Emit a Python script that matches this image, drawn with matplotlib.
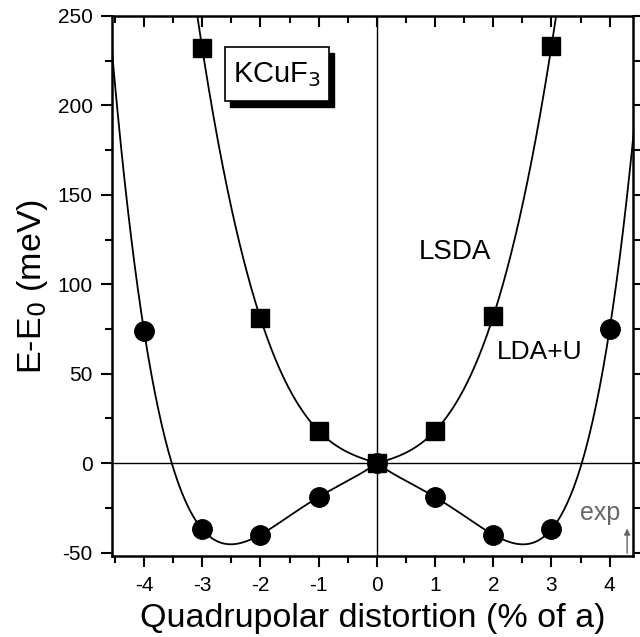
import matplotlib
matplotlib.use("Agg")
import matplotlib.pyplot as plt
import numpy as np
from matplotlib.patches import Rectangle
from matplotlib.ticker import MultipleLocator

plt.rcParams['font.family'] = ['Liberation Sans', 'DejaVu Sans']

# LSDA (squares)
x_lsda = [-3, -2, -1, 0, 1, 2, 3]
e_lsda = [232, 81, 18, 0, 18, 82, 233]
# LDA+U (circles)
x_ldau = [-4, -3, -2, -1, 0, 1, 2, 3, 4]
e_ldau = [74, -37, -40, -19, 0, -19, -40, -37, 75]


def two_halves(ax, x, y, **kw):
    # each side interpolated separately by a polynomial through its points
    x = np.asarray(x, float)
    y = np.asarray(y, float)
    for mask, t in ((x <= 0, np.linspace(-4.6, 0, 400)),
                    (x >= 0, np.linspace(0, 4.6, 400))):
        c = np.polyfit(x[mask], y[mask], mask.sum() - 1)
        ax.plot(t, np.polyval(c, t), **kw)


fig = plt.figure(figsize=(6.4, 6.37), dpi=100)
ax = fig.add_axes([0.175, 0.127, 0.814, 0.848])

ax.axhline(0, color='black', lw=1.0)
ax.axvline(0, color='black', lw=1.0)
two_halves(ax, x_lsda, e_lsda, color='black', lw=1.3)
two_halves(ax, x_ldau, e_ldau, color='black', lw=1.3)
ax.plot(x_lsda, e_lsda, 's', color='black', ms=13, zorder=5)
ax.plot(x_ldau, e_ldau, 'o', color='black', ms=14, zorder=5)

ax.set_xlim(-4.55, 4.4)
ax.set_ylim(-52, 250)

ax.xaxis.set_major_locator(MultipleLocator(1))
ax.xaxis.set_minor_locator(MultipleLocator(0.5))
ax.yaxis.set_major_locator(MultipleLocator(50))
ax.yaxis.set_minor_locator(MultipleLocator(25))
ax.tick_params(axis='both', which='major', direction='out', length=8, width=1.5,
               labelsize=15, pad=6, top=True, right=True)
ax.tick_params(axis='both', which='minor', direction='out', length=5, width=1.5,
               top=True, right=True)
# top and right ticks point inward
for t in ax.xaxis.get_major_ticks() + ax.xaxis.get_minor_ticks():
    t.tick2line.set_marker(3)
for t in ax.yaxis.get_major_ticks() + ax.yaxis.get_minor_ticks():
    t.tick2line.set_marker(1)
ax.xaxis.set_major_formatter(plt.FuncFormatter(lambda v, p: f"{int(round(v))}"))
ax.yaxis.set_major_formatter(plt.FuncFormatter(lambda v, p: f"{int(round(v))}"))

for s in ax.spines.values():
    s.set_linewidth(1.8)

ax.set_xlabel('Quadrupolar distortion (% of a)', fontsize=24.5, labelpad=6)
ax.set_ylabel('E-E$_0$ (meV)', fontsize=24.5, labelpad=5)

# KCuF3 box with shadow
ax.add_patch(Rectangle((0.227, 0.832), 0.2, 0.1, transform=ax.transAxes,
                       facecolor='black', edgecolor='black', zorder=6))
ax.add_patch(Rectangle((0.217, 0.842), 0.2, 0.1, transform=ax.transAxes,
                       facecolor='white', edgecolor='black', lw=1.2, zorder=7))
ax.text(0.317, 0.892, 'KCuF$_3$', transform=ax.transAxes, ha='center', va='center',
        fontsize=21, zorder=8)

ax.text(1.35, 118, 'LSDA', fontsize=20, ha='center', va='center')
ax.text(2.8, 62, 'LDA+U', fontsize=19, ha='center', va='center')
ax.text(3.83, -28, 'exp', fontsize=18, color='#666666', ha='center', va='center')
ax.annotate('', xy=(4.3, -35), xytext=(4.3, -52),
            arrowprops=dict(arrowstyle='-|>', color='#666666', lw=1, mutation_scale=9))

fig.savefig('out.png', dpi=100)
